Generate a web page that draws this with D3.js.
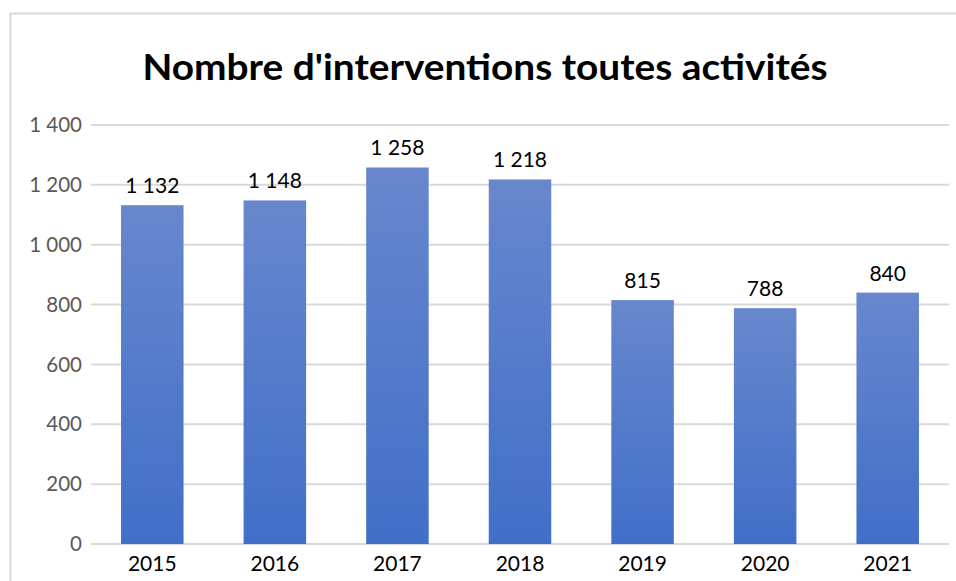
<!DOCTYPE html>
<html>
<head>
<meta charset="utf-8">
<script src="https://cdn.jsdelivr.net/npm/d3@7"></script>
<style>
  body { margin: 0; background: white; font-family: 'Lato', 'Open Sans', sans-serif; }
  .grid line { stroke: #d9d9d9; stroke-width: 2px; }
  .yTick { fill: #595959; font-size: 20.5px; }
  .xTick { fill: #000; font-size: 21px; }
  .valLabel { fill: #000; font-size: 21px; }
</style>
</head>
<body>
<script>

var years = ["2015", "2016", "2017", "2018", "2019", "2020", "2021"];
var interventions = [1132, 1148, 1258, 1218, 815, 788, 840];
var yTicks = [0, 200, 400, 600, 800, 1000, 1200, 1400];
var title = "Nombre d'interventions toutes activités";

var W = 956, H = 581;
var plot = {left: 91, right: 949, top: 125, bottom: 544};

var fmt = function(v) { return d3.format(",")(v).replace(/,/g, " "); };

var svg = d3.select("body").append("svg")
    .attr("width", W)
    .attr("height", H);

// chart frame
svg.append("rect")
    .attr("x", 10.5).attr("y", 13.5)
    .attr("width", 960).attr("height", 600)
    .attr("fill", "white")
    .attr("stroke", "#d9d9d9")
    .attr("stroke-width", 2);

var defs = svg.append("defs");
var grad = defs.append("linearGradient")
    .attr("id", "barGrad")
    .attr("x1", 0).attr("y1", 0).attr("x2", 0).attr("y2", 1);
grad.append("stop").attr("offset", "0%").attr("stop-color", "#6887cd");
grad.append("stop").attr("offset", "100%").attr("stop-color", "#416fc8");

var x = d3.scaleBand().domain(years).range([plot.left, plot.right]).paddingInner(0.49).paddingOuter(0.245);
var y = d3.scaleLinear().domain([0, 1400]).range([plot.bottom, plot.top]);

// gridlines
svg.append("g").attr("class", "grid")
  .selectAll("line").data(yTicks).enter().append("line")
    .attr("x1", plot.left).attr("x2", plot.right)
    .attr("y1", function(d) { return y(d); })
    .attr("y2", function(d) { return y(d); });

svg.append("g").selectAll("text").data(yTicks).enter().append("text")
    .attr("class", "yTick")
    .attr("x", 82)
    .attr("y", function(d) { return y(d); })
    .attr("dy", "0.35em")
    .attr("text-anchor", "end")
    .text(fmt);

// bars
svg.append("g").selectAll("rect").data(interventions).enter().append("rect")
    .attr("x", function(d, i) { return x(years[i]); })
    .attr("width", x.bandwidth())
    .attr("y", function(d) { return y(d); })
    .attr("height", function(d) { return y(0) - y(d); })
    .attr("fill", "url(#barGrad)");

svg.append("g").selectAll("text").data(interventions).enter().append("text")
    .attr("class", "valLabel")
    .attr("x", function(d, i) { return x(years[i]) + x.bandwidth() / 2; })
    .attr("y", function(d) { return y(d) - 12; })
    .attr("text-anchor", "middle")
    .text(fmt);

svg.append("g").selectAll("text").data(years).enter().append("text")
    .attr("class", "xTick")
    .attr("x", function(d) { return x(d) + x.bandwidth() / 2; })
    .attr("y", 571)
    .attr("text-anchor", "middle")
    .text(function(d) { return d; });

svg.append("text")
    .attr("x", 485)
    .attr("y", 80)
    .attr("text-anchor", "middle")
    .attr("font-size", 36)
    .attr("font-weight", "bold")
    .attr("fill", "#000")
    .attr("textLength", 685)
    .attr("lengthAdjust", "spacingAndGlyphs")
    .text(title);

</script>
</body>
</html>
